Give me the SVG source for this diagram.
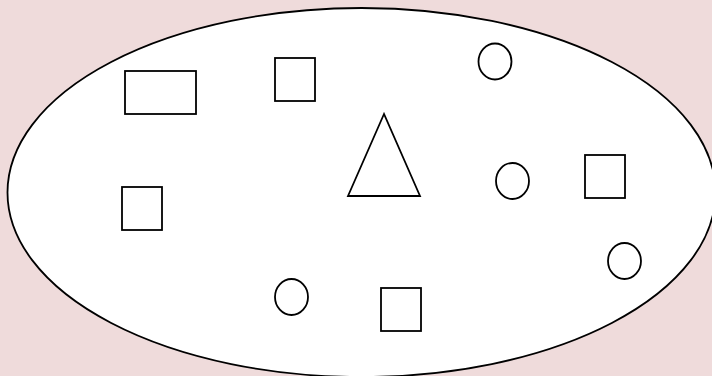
<svg xmlns="http://www.w3.org/2000/svg" width="712" height="376" viewBox="0 0 712 376">
<style>
.s{fill:#fff;stroke:#000;stroke-width:1.8}
</style>
<rect x="0" y="0" width="712" height="376" fill="#efdbdb"/>
<g id="set"><ellipse class="s" cx="361.5" cy="192.5" rx="354" ry="184.5"/></g>
<g id="rect1"><rect class="s" x="125" y="71" width="71" height="43"/></g>
<g id="sq1"><rect class="s" x="275" y="58" width="40" height="43"/></g>
<g id="tri"><polygon class="s" points="384,114 348,196 420,196"/></g>
<g id="c1"><ellipse class="s" cx="495" cy="61.5" rx="16.5" ry="18"/></g>
<g id="c2"><ellipse class="s" cx="512.5" cy="181" rx="16.5" ry="18"/></g>
<g id="sq2"><rect class="s" x="585" y="155" width="40" height="43"/></g>
<g id="c3"><ellipse class="s" cx="624.5" cy="261" rx="16.5" ry="18"/></g>
<g id="sq3"><rect class="s" x="122" y="187" width="40" height="43"/></g>
<g id="c4"><ellipse class="s" cx="291.5" cy="297" rx="16.5" ry="18"/></g>
<g id="sq4"><rect class="s" x="381" y="288" width="40" height="43"/></g>
<g id="connectors"/>
</svg>
